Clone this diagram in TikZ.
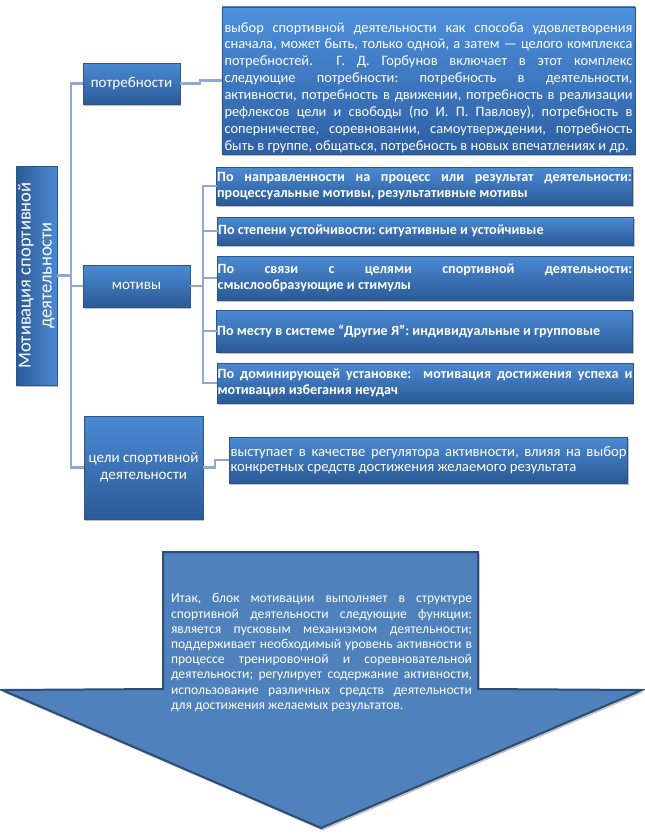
\documentclass[tikz,border=0pt]{standalone}
\usepackage{fontspec}
\setmainfont{Carlito}
\usetikzlibrary{shadows,calc}
\definecolor{boxtop}{HTML}{4B8AD4}
\definecolor{boxbot}{HTML}{2B5A96}
\definecolor{desctop}{HTML}{4E90DC}
\definecolor{descbot}{HTML}{2D5FA3}
\definecolor{boxline}{HTML}{2D5588}
\definecolor{conn}{HTML}{8EA9D3}
\definecolor{arrowfill}{HTML}{4F81BD}
\definecolor{arrowline}{HTML}{2C4D75}
\newcommand{\nohyph}{\hyphenpenalty=10000\relax\exhyphenpenalty=10000\relax\frenchspacing}
\begin{document}
\begin{tikzpicture}[x=0.75pt,y=-0.75pt,
  boxbase/.style={draw=boxline, line width=0.6pt, text=white, inner sep=0.8pt, outer sep=0pt,
    drop shadow={shadow xshift=0.8pt, shadow yshift=-1.8pt, opacity=0.45, fill=black!55}},
  box/.style={boxbase, top color=boxtop, bottom color=boxbot},
  lbl/.style={box, align=center, font=\fontsize{11.3}{12.75}\selectfont},
  item/.style={box, text width=311pt, align=justify, inner xsep=0.5pt,
    font=\bfseries\fontsize{10.6}{12}\selectfont\nohyph},
  desc/.style={box, align=justify, font=\fontsize{10.8}{12.7}\selectfont\nohyph},
  conn/.style={draw=conn, line width=2.2pt},
  arrowshape/.style={fill=arrowfill, draw=arrowline, line width=1.5pt, line join=miter,
    drop shadow={shadow xshift=1.2pt, shadow yshift=-1.8pt, opacity=0.4, fill=black!60}},
  arrowtext/.style={text=white, text width=225.75pt, align=justify, inner sep=0pt,
    font=\fontsize{10.2}{11.4}\selectfont\nohyph}
]
\useasboundingbox (0,0) rectangle (645,836);

% bottom arrow
\coordinate (aTL) at (163,552);
\coordinate (aTR) at (478,552);
\coordinate (aSR) at (478,689);
\coordinate (aWR) at (642,690);
\coordinate (aTip) at (321,828);
\coordinate (aWL) at (2,690);
\coordinate (aSL) at (163,689);
\draw[arrowshape] (aTL) -- (aTR) -- (aSR) -- (aWR) -- (aTip) -- (aWL) -- (aSL) -- cycle;
\node[arrowtext] (summary) at (321.5,652.5) {Итак, блок мотивации выполняет в структуре\linebreak
спортивной деятельности следующие функции:\linebreak
является пусковым механизмом деятельности;\linebreak
поддерживает необходимый уровень активности в\linebreak
процессе тренировочной и соревновательной\linebreak
деятельности; регулирует содержание активности,\linebreak
использование различных средств деятельности\linebreak
для достижения желаемых результатов.};

% main vertical box
\node[boxbase, rotate=90, left color=boxbot, right color=boxtop, align=center,
  minimum width=164.25pt, minimum height=30.75pt,
  font=\fontsize{13.9}{15.75}\selectfont] (main) at (36.5,275.5)
  {Мотивация спортивной\\деятельности};

% second level
\node[lbl, minimum width=72.75pt, minimum height=30.75pt] (potr) at (131.5,83.5) {потребности};
\node[lbl, minimum width=80.25pt, minimum height=31.5pt] (motiv) at (136.5,286) {мотивы};
\node[lbl, minimum width=89.25pt, minimum height=77.25pt] (celi) at (143.5,467.5) {цели спортивной\\деятельности};

% needs description
\node[desc, top color=desctop, bottom color=descbot, text width=306pt, inner xsep=1.9pt, minimum height=110.25pt] (potrText) at (428.5,80.5)
{\rule{0pt}{18pt}выбор спортивной деятельности как способа удовлетворения\linebreak
сначала, может быть, только одной, а затем — целого комплекса\linebreak
потребностей. \ Г. Д. Горбунов включает в этот комплекс\linebreak
следующие потребности: потребность в деятельности,\linebreak
активности, потребность в движении, потребность в реализации\linebreak
рефлексов цели и свободы (по И. П. Павлову), потребность в\linebreak
соперничестве, соревновании, самоутверждении, потребность\linebreak
быть в группе, общаться, потребность в новых впечатлениях и др.};

% motives
\node[item, minimum height=28.5pt] (m1) at (424.5,186)
{По направленности на процесс или результат деятельности:\linebreak процессуальные мотивы, результативные мотивы};
\node[item, minimum height=21pt] (m2) at (425.5,231)
{По степени устойчивости: ситуативные и устойчивые};
\node[item, minimum height=33pt] (m3) at (425,278)
{По связи с целями спортивной деятельности:\linebreak смыслообразующие и стимулы};
\node[item, minimum height=31.5pt] (m4) at (424.5,331)
{По месту в системе “Другие Я”: индивидуальные и групповые};
\node[item, minimum height=30pt] (m5) at (425,383)
{По доминирующей установке: \ мотивация достижения успеха и\linebreak мотивация избегания неудач};

% goals description
\node[desc, text width=297pt, inner xsep=1pt, minimum height=34.5pt,
  font=\fontsize{11}{11.3}\selectfont\nohyph] (celiText) at (428.5,460)
{выступает в качестве регулятора активности, влияя на выбор\linebreak
конкретных средств достижения желаемого результата};

% connectors
\coordinate (sp) at (71,280);
\coordinate (sp2) at (203,280);
\coordinate (k1) at (200,80);
\coordinate (k2) at (215,460);
\draw[conn] (potr.west) -| (sp) |- (celi.west);
\draw[conn] (main.south) -- (main.south -| sp) |- (motiv.west);
\draw[conn] (potr.east) -- (potr.east -| k1) |- (potrText.west);
\draw[conn] (motiv.east) -- (motiv.east -| sp2);
\draw[conn] (m1.west) -| (sp2) |- (m5.west);
\draw[conn] (m2.west) -- (m2.west -| sp2);
\draw[conn] (m3.west) -- (m3.west -| sp2);
\draw[conn] (m4.west) -- (m4.west -| sp2);
\draw[conn] (celi.east) -- (celi.east -| k2) |- (celiText.west);
\end{tikzpicture}
\end{document}
